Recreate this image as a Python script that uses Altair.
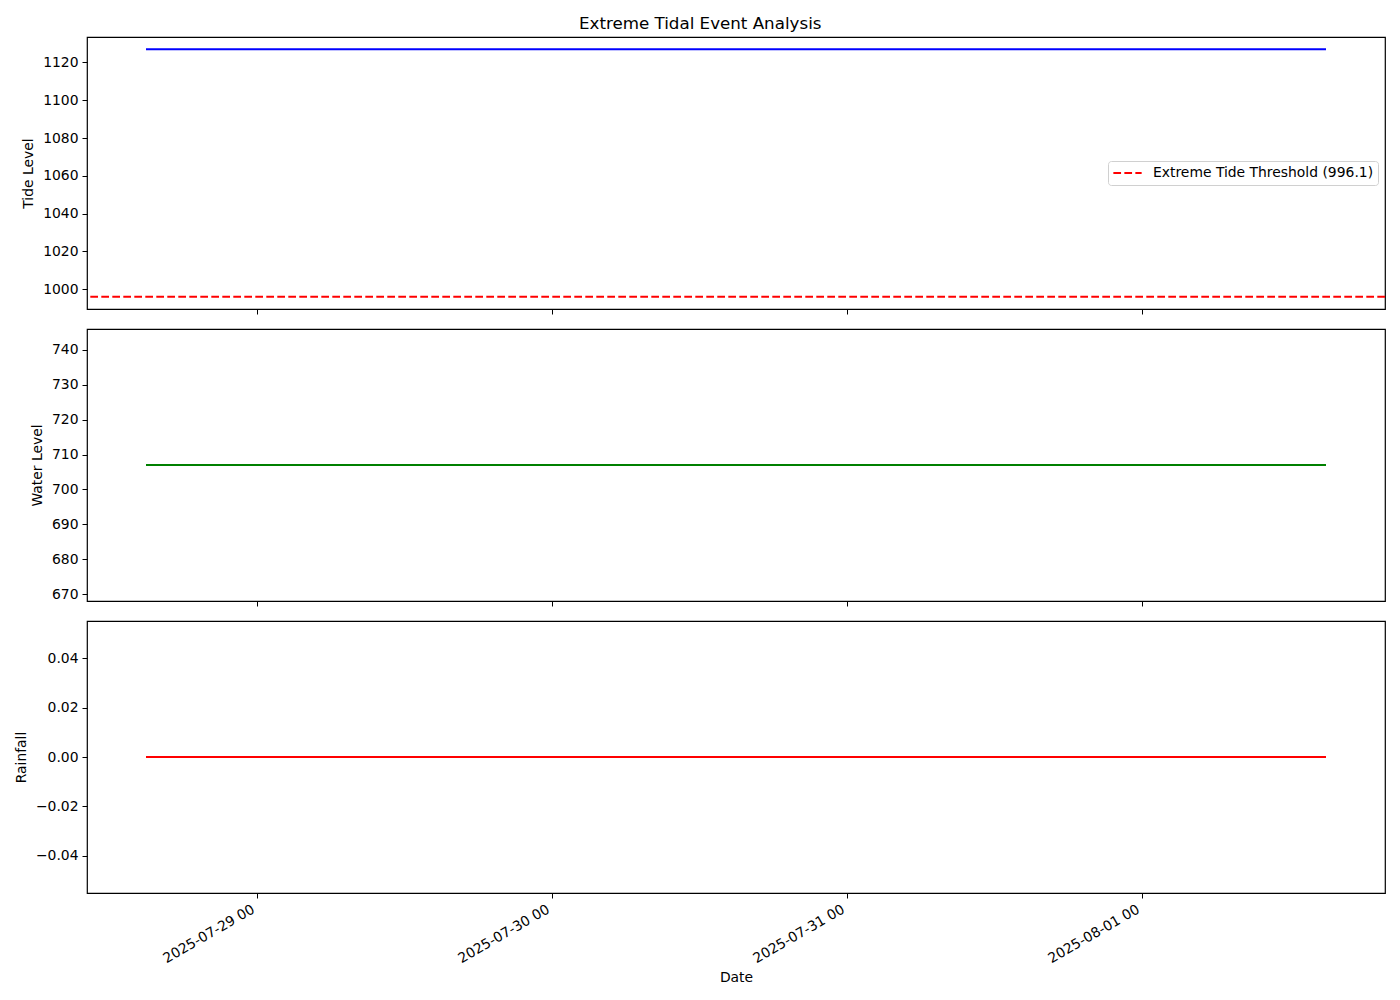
import altair as alt
import pandas as pd

# Data
times = ["2025-07-28T15:00:00", "2025-07-29T15:00:00", "2025-07-30T15:00:00",
         "2025-07-31T15:00:00", "2025-08-01T15:00:00"]
tide_level = [1127.0, 1127.0, 1127.0, 1127.0, 1127.0]
water_level = [707.0, 707.0, 707.0, 707.0, 707.0]
rainfall = [0.0, 0.0, 0.0, 0.0, 0.0]
threshold = 996.1
threshold_label = "Extreme Tide Threshold (996.1)"

df = pd.DataFrame({"Date": times, "Tide": tide_level, "Water": water_level, "Rain": rainfall})
thr_df = pd.DataFrame({"y": [threshold], "label": [threshold_label]})

FONT = "DejaVu Sans"
W, H = 1298, 272

x_domain = [alt.DateTime(year=2025, month=7, date=28, hours=10, minutes=12),
            alt.DateTime(year=2025, month=8, date=1, hours=19, minutes=48)]
tick_vals = [alt.DateTime(year=2025, month=7, date=29),
             alt.DateTime(year=2025, month=7, date=30),
             alt.DateTime(year=2025, month=7, date=31),
             alt.DateTime(year=2025, month=8, date=1)]

x_scale = alt.Scale(domain=x_domain, nice=False)

def x_enc(show_labels):
    if show_labels:
        ax = alt.Axis(values=tick_vals, format="%Y-%m-%d %H", labelAngle=330,
                      labelAlign="right", labelBaseline="top", title="Date",
                      labelPadding=4, labelOffset=-7, titlePadding=5)
    else:
        ax = alt.Axis(values=tick_vals, labels=False, title=None)
    return alt.X("Date:T", scale=x_scale, axis=ax)

base = alt.Chart(df)

# Panel 1: tide
tide_line = base.mark_line(color="#0000ff", strokeWidth=2).encode(
    x=x_enc(False),
    y=alt.Y("Tide:Q", scale=alt.Scale(domain=[989.56, 1133.44], nice=False, zero=False),
            axis=alt.Axis(values=[1000, 1020, 1040, 1060, 1080, 1100, 1120], format="d",
                          title="Tide Level")),
)
thr_rule = alt.Chart(thr_df).mark_rule(strokeWidth=2, strokeDash=[7.7, 3.3]).encode(
    y="y:Q",
    color=alt.Color("label:N", scale=alt.Scale(domain=[threshold_label], range=["#ff0000"]),
                    legend=alt.Legend(title=None, orient="none", legendX=1021, legendY=124,
                                      symbolType="stroke", symbolDash=[7.7, 3.3], symbolStrokeWidth=2,
                                      symbolSize=800, clipHeight=16, labelFontSize=13.9, labelFont=FONT,
                                      labelColor="black", labelLimit=0, labelOffset=10,
                                      padding=4, cornerRadius=3, strokeColor="#d0d0d0",
                                      fillColor="white")),
)
p1 = alt.layer(tide_line, thr_rule).properties(width=W, height=H)

# Panel 2: water
p2 = base.mark_line(color="#008000", strokeWidth=2).encode(
    x=x_enc(False),
    y=alt.Y("Water:Q", scale=alt.Scale(domain=[668.1, 745.9], nice=False, zero=False),
            axis=alt.Axis(values=[670, 680, 690, 700, 710, 720, 730, 740], format="d",
                          title="Water Level")),
).properties(width=W, height=H)

# Panel 3: rainfall
p3 = base.mark_line(color="#ff0000", strokeWidth=2).encode(
    x=x_enc(True),
    y=alt.Y("Rain:Q", scale=alt.Scale(domain=[-0.055, 0.055], nice=False, zero=False),
            axis=alt.Axis(values=[-0.04, -0.02, 0.0, 0.02, 0.04], format=".2f", title="Rainfall")),
).properties(width=W, height=H)

chart = alt.vconcat(p1, p2, p3, spacing=12).properties(
    title=alt.TitleParams("Extreme Tidal Event Analysis", fontSize=16.7, fontWeight="normal",
                          font=FONT, anchor="middle", color="black", offset=4),
    background="white",
    padding={"left": 13, "top": 15, "right": 5, "bottom": 5},
).configure_view(stroke="black", strokeWidth=1.2).configure_axis(
    grid=False, domain=False, tickColor="black", tickSize=5, tickWidth=1,
    labelFont=FONT, labelFontSize=13.9, labelColor="black",
    titleFont=FONT, titleFontSize=13.9, titleColor="black", titleFontWeight="normal",
    labelPadding=4,
).configure_axisY(titlePadding=7)

chart.save("out.html", embed_options={"renderer": "svg", "actions": False})
